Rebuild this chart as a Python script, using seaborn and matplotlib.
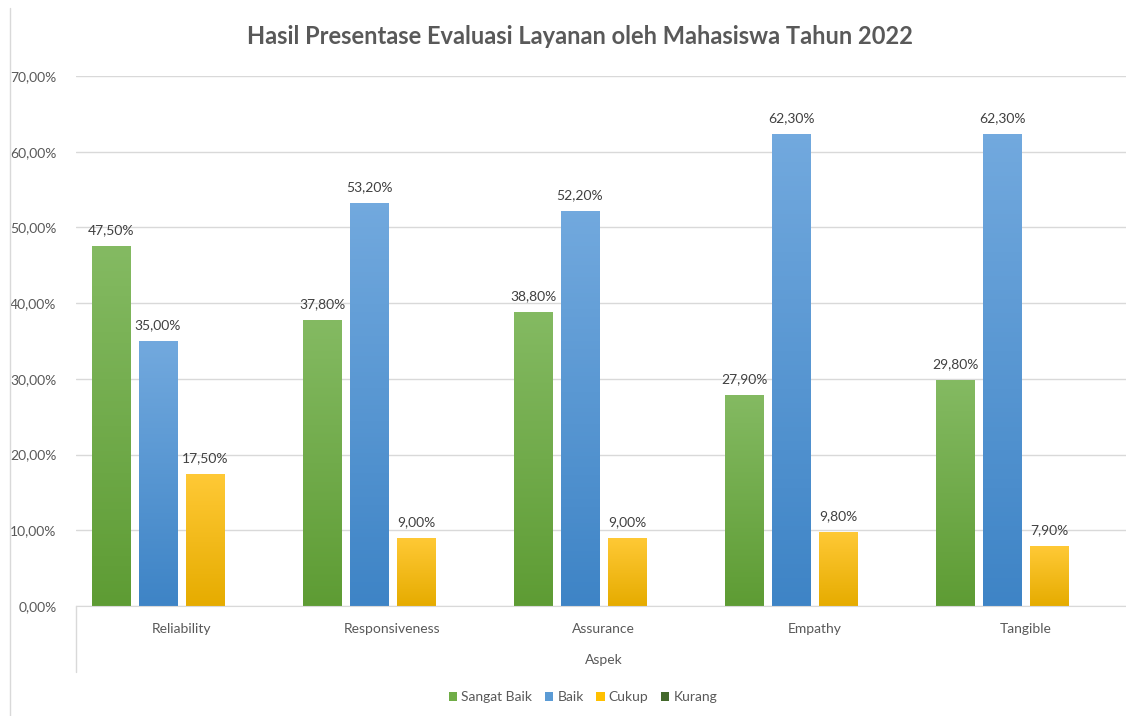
import matplotlib
matplotlib.use('Agg')
import matplotlib.pyplot as plt
from matplotlib.colors import LinearSegmentedColormap
from matplotlib.lines import Line2D
import numpy as np
import pandas as pd
import seaborn as sns

# Data
aspek = ['Reliability', 'Responsiveness', 'Assurance', 'Empathy', 'Tangible']
kategori = ['Sangat Baik', 'Baik', 'Cukup', 'Kurang']
sangat_baik = [47.5, 37.8, 38.8, 27.9, 29.8]
baik = [35.0, 53.2, 52.2, 62.3, 62.3]
cukup = [17.5, 9.0, 9.0, 9.8, 7.9]
kurang = [0, 0, 0, 0, 0]

colors = ['#70AD47', '#5B9BD5', '#FFC000', '#43682B']
tops = ['#84BA62', '#72A9DE', '#FFC936', '#43682B']
bottoms = ['#5E9C34', '#3E84C6', '#E6AC00', '#43682B']

rows = []
for k, vals in zip(kategori, [sangat_baik, baik, cukup, kurang]):
    for a, v in zip(aspek, vals):
        rows.append({'Aspek': a, 'Kategori': k, 'Nilai': v})
df = pd.DataFrame(rows)

sns.set_style('white')
plt.rcParams['font.family'] = ['Lato', 'DejaVu Sans']
grey = '#595959'

fig = plt.figure(figsize=(11.26, 7.16), dpi=100)
ax = fig.add_axes([76 / 1126, 110 / 716, 1055 / 1126, 530 / 716])

sns.barplot(data=df, x='Aspek', y='Nilai', hue='Kategori', hue_order=kategori,
            palette=colors, saturation=1, width=0.89, gap=0.19, linewidth=0, ax=ax)

ax.set_xlim(-0.5, 4.5)
ax.set_ylim(0, 70)

# gradient fill on bars + data labels
for i, cont in enumerate(ax.containers):
    cmap = LinearSegmentedColormap.from_list('g%d' % i, [bottoms[i], tops[i]])
    for bar in cont:
        x0 = bar.get_x()
        w, h = bar.get_width(), bar.get_height()
        if h <= 0:
            continue
        grad = np.linspace(0, 1, 100).reshape(-1, 1)
        im = ax.imshow(grad, extent=[x0, x0 + w, 0, h], origin='lower',
                       aspect='auto', cmap=cmap, zorder=2)
        im.set_clip_path(bar)
        ax.annotate(f'{h:.2f}%'.replace('.', ','), (x0 + w / 2, h),
                    xytext=(0, 7), textcoords='offset points',
                    ha='center', va='bottom', fontsize=10, color='#404040')

ax.set_xlim(-0.5, 4.5)
ax.set_ylim(0, 70)
ax.set_aspect('auto')

ax.set_yticks(np.arange(0, 71, 10))
ax.set_yticklabels([f'{t:.2f}%'.replace('.', ',') for t in np.arange(0, 71, 10)])
ax.yaxis.grid(True, color='#D9D9D9', linewidth=1)
ax.set_axisbelow(True)
ax.tick_params(axis='y', length=0, pad=14, labelsize=10, labelcolor=grey)
ax.tick_params(axis='x', length=0, pad=12, labelsize=10, labelcolor=grey)
for s in ['top', 'right', 'left']:
    ax.spines[s].set_visible(False)
ax.spines['bottom'].set_color('#D9D9D9')
ax.set_ylabel('')
ax.set_xlabel('Aspek', fontsize=10, color=grey, labelpad=14)

# category axis vertical line below plot, chart border on the left
ax.plot([0, 0], [0, -66 / 530], transform=ax.transAxes, color='#D9D9D9',
        linewidth=1, clip_on=False)
fig.add_artist(Line2D([10 / 1126, 10 / 1126], [0, 1 - 8 / 716], color='#D9D9D9', linewidth=1))

sns.move_legend(ax, 'center', bbox_to_anchor=(583 / 1126, 19 / 716),
                bbox_transform=fig.transFigure, ncol=4, frameon=False, title=None,
                fontsize=10, handlelength=0.6, handleheight=0.6,
                columnspacing=0.9, handletextpad=0.3)
for t in ax.get_legend().get_texts():
    t.set_color(grey)

fig.text(580 / 1126, 1 - 37 / 716, 'Hasil Presentase Evaluasi Layanan oleh Mahasiswa Tahun 2022',
         ha='center', va='center', fontsize=17, fontweight='bold', color=grey)

fig.savefig('out.png', dpi=100)
